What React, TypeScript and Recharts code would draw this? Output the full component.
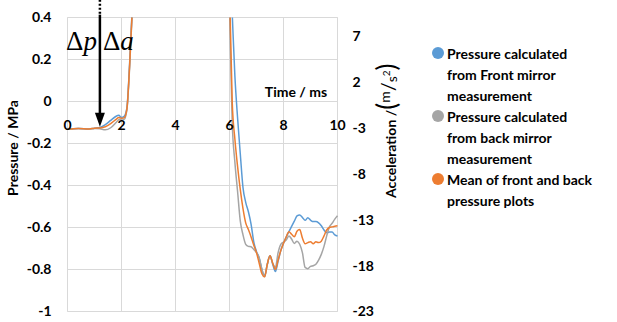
import { LineChart, Line, XAxis, YAxis, CartesianGrid, ReferenceLine } from 'recharts';

const time = [
	0, 0.4, 0.8, 1.0, 1.2, 1.4, 1.6, 1.8, 1.9, 2.0, 2.1, 2.2, 2.3, 2.4, 2.6, 3, 4, 5, 5.6, 5.9,
	6.0, 6.1, 6.2, 6.3, 6.4, 6.5, 6.6, 6.7, 6.8, 6.9, 7.0, 7.1, 7.2, 7.3, 7.4, 7.5, 7.6, 7.7, 7.8, 7.9,
	8.0, 8.1, 8.2, 8.3, 8.4, 8.5, 8.6, 8.7, 8.8, 8.9, 9.0, 9.1, 9.2, 9.3, 9.4, 9.5, 9.6, 9.7, 9.8, 9.9, 10.0,
];

const frontPressure = [
	-0.132, -0.128, -0.131, -0.127, -0.124, -0.11, -0.09, -0.07, -0.066, -0.076, -0.07, -0.03, 0.18, 0.45, 1.2, 2.4, 3.0, 2.6, 1.8, 1.0,
	0.7, 0.42, 0.12, -0.08, -0.25, -0.41, -0.48, -0.525, -0.585, -0.67, -0.715, -0.745, -0.8, -0.83, -0.775, -0.735, -0.775, -0.81, -0.76, -0.71,
	-0.675, -0.645, -0.62, -0.595, -0.57, -0.545, -0.54, -0.552, -0.566, -0.554, -0.565, -0.572, -0.572, -0.578, -0.592, -0.612, -0.625, -0.622, -0.622, -0.635, -0.64,
];

const backPressure = [
	-0.132, -0.129, -0.131, -0.128, -0.13, -0.135, -0.125, -0.1, -0.086, -0.083, -0.085, -0.04, 0.16, 0.43, 1.2, 2.4, 3.0, 2.6, 1.8, 1.0,
	0.45, -0.1, -0.29, -0.43, -0.57, -0.635, -0.68, -0.69, -0.692, -0.705, -0.72, -0.745, -0.8, -0.834, -0.775, -0.735, -0.77, -0.79, -0.72, -0.68,
	-0.67, -0.66, -0.64, -0.655, -0.676, -0.665, -0.68, -0.72, -0.79, -0.796, -0.785, -0.782, -0.775, -0.755, -0.728, -0.69, -0.64, -0.597, -0.58, -0.56, -0.544,
];

const meanPressure = [
	-0.132, -0.128, -0.131, -0.127, -0.126, -0.12, -0.105, -0.085, -0.076, -0.08, -0.077, -0.035, 0.17, 0.44, 1.2, 2.4, 3.0, 2.6, 1.8, 1.0,
	0.55, 0.0, -0.18, -0.31, -0.42, -0.51, -0.578, -0.61, -0.645, -0.685, -0.72, -0.77, -0.82, -0.835, -0.775, -0.735, -0.77, -0.8, -0.755, -0.71,
	-0.675, -0.645, -0.62, -0.632, -0.644, -0.618, -0.61, -0.65, -0.677, -0.672, -0.668, -0.677, -0.668, -0.672, -0.665, -0.64, -0.612, -0.6, -0.597, -0.594, -0.592,
];

const timeTicks = [0, 2, 4, 6, 8, 10];
const pressureTicks = [0.4, 0.2, 0, -0.2, -0.4, -0.6, -0.8, -1];
const accelTicks = [7, 2, -3, -8, -13, -18, -23];

const legendItems = [
	{ color: '#5B9BD5', lines: ['Pressure calculated', 'from Front mirror', 'measurement'] },
	{ color: '#A5A5A5', lines: ['Pressure calculated', 'from back mirror', 'measurement'] },
	{ color: '#ED7D31', lines: ['Mean of front and back', 'pressure plots'] },
];

const data = time.map((t, i) => ({
	t,
	front: frontPressure[i],
	back: backPressure[i],
	mean: meanPressure[i],
}));

const FONT = 'Lato, "Open Sans", sans-serif';
const GRID = '#D9D9D9';
const P_MAX = 0.4;
const P_MIN = -1;

// x labels sit up near the zero line, like Excel's crossing axis
function TimeTick(props: any) {
	const { x, payload } = props;
	return (
		<text x={x} y={130} textAnchor='middle' fontFamily={FONT} fontWeight={700} fontSize={14} fill='#000'>
			{payload.value}
		</text>
	);
}

// horizontal grid as thin filled bars between the segment's corners
function HGrid({ x1, y1, x2, y2 }: any) {
	const left = Math.min(x1, x2);
	const w = Math.abs(x2 - x1);
	return (
		<g>
			{pressureTicks.map((v) => {
				const y = y1 + ((P_MAX - v) / (P_MAX - P_MIN)) * (y2 - y1);
				return <rect key={v} x={left} y={Math.floor(y)} width={w} height={1} fill={GRID} />;
			})}
		</g>
	);
}

function Arrow({ x1, y1, y2 }: any) {
	const x = x1;
	return (
		<g>
			<line x1={x} y1={y1} x2={x} y2={y1 + 15} stroke='#000' strokeWidth={2.5} strokeDasharray='2 2' />
			<line x1={x} y1={y1 + 15} x2={x} y2={y2 - 12} stroke='#000' strokeWidth={2.5} />
			<polygon points={`${x - 5},${y2 - 14} ${x + 5},${y2 - 14} ${x},${y2}`} fill='#000' />
			<text x={x - 3} y={50} textAnchor='end' fontFamily='"Liberation Serif", serif' fontSize={27} fill='#000'>
				Δ<tspan fontStyle='italic'>p</tspan>
			</text>
			<text x={x + 3} y={50} textAnchor='start' fontFamily='"Liberation Serif", serif' fontSize={27} fill='#000'>
				Δ<tspan fontStyle='italic'>a</tspan>
			</text>
		</g>
	);
}

export default function App() {
	return (
		<div style={{ position: 'absolute', left: 0, top: 0, width: 617, height: 322, background: '#fff' }}>
			<LineChart width={617} height={322} data={data} margin={{ top: 17.5, right: 229.5, bottom: 0, left: 19.5 }}>
				<CartesianGrid stroke={GRID} />
				<ReferenceLine
					segment={[{ x: 0, y: P_MAX }, { x: 10, y: P_MIN }]}
					ifOverflow='visible'
					shape={<HGrid />}
				/>
				<XAxis
					dataKey='t'
					type='number'
					domain={[0, 10]}
					ticks={timeTicks}
					axisLine={false}
					tickLine={false}
					height={10.5}
					tick={TimeTick}
					interval={0}
				/>
				<YAxis
					domain={[P_MIN, P_MAX]}
					ticks={pressureTicks}
					allowDataOverflow
					axisLine={false}
					tickLine={false}
					width={48}
					tickSize={0}
					tickMargin={16}
					interval={0}
					tick={{ fontFamily: FONT, fontWeight: 700, fontSize: 14, fill: '#000' }}
				/>
				<YAxis
					yAxisId='right'
					orientation='right'
					domain={[-23, 9]}
					ticks={accelTicks}
					allowDataOverflow
					axisLine={false}
					tickLine={false}
					width={50}
					tickSize={0}
					tickMargin={15}
					interval={0}
					tick={{ fontFamily: FONT, fontWeight: 700, fontSize: 14, fill: '#000', textAnchor: 'start' }}
				/>
				<Line type='monotone' dataKey='front' stroke='#5B9BD5' strokeWidth={1.5} dot={false} isAnimationActive={false} />
				<Line type='monotone' dataKey='back' stroke='#A5A5A5' strokeWidth={1.5} dot={false} isAnimationActive={false} />
				<Line type='monotone' dataKey='mean' stroke='#ED7D31' strokeWidth={1.5} dot={false} isAnimationActive={false} />
				<ReferenceLine
					segment={[{ x: 1.2, y: 0.485 }, { x: 1.2, y: -0.12 }]}
					ifOverflow='visible'
					shape={<Arrow />}
				/>
				<text x={296} y={97} textAnchor='middle' fontFamily={FONT} fontWeight={700} fontSize={14} fill='#000'>
					Time / ms
				</text>
				<text
					x={18}
					y={148}
					transform='rotate(-90 18 148)'
					textAnchor='middle'
					fontFamily={FONT}
					fontWeight={700}
					fontSize={14}
					fill='#000'
				>
					Pressure / MPa
				</text>
				<text
					x={396}
					y={198}
					transform='rotate(-90 396 198)'
					textAnchor='start'
					fontFamily={FONT}
					fontWeight={700}
					fontSize={14}
					fill='#000'
				>
					Acceleration /<tspan fontSize={26} fontWeight={400}>(</tspan>
					<tspan fontWeight={400} fontSize={14} dy={-6}>m</tspan>
					<tspan fontWeight={400} fontSize={20} dy={5}>/</tspan>
					<tspan fontWeight={400} fontSize={14} dy={2}>s</tspan>
					<tspan fontWeight={400} fontSize={10} dy={-7}>2</tspan>
					<tspan fontSize={26} fontWeight={400} dy={6}>)</tspan>
				</text>
			</LineChart>
			<div style={{ position: 'absolute', left: 432, top: 43, fontFamily: FONT, fontWeight: 700, fontSize: 14, lineHeight: '21px', color: '#000' }}>
				{legendItems.map((item) => (
					<div key={item.color} style={{ position: 'relative', paddingLeft: 15 }}>
						<span
							style={{
								position: 'absolute',
								left: 0,
								top: 4,
								width: 12,
								height: 12,
								borderRadius: 6,
								background: item.color,
							}}
						/>
						{item.lines.map((line) => (
							<div key={line} style={{ whiteSpace: 'nowrap' }}>{line}</div>
						))}
					</div>
				))}
			</div>
		</div>
	);
}
